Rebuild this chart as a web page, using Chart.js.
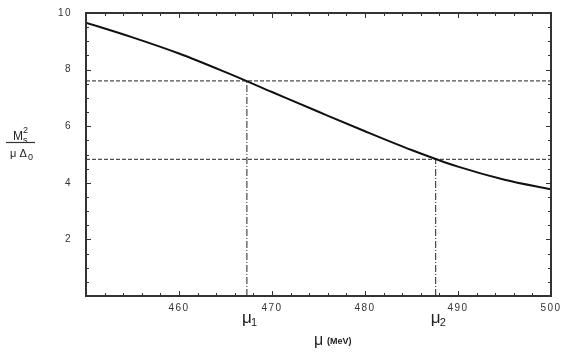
<!DOCTYPE html>
<html>
<head>
<meta charset="utf-8">
<script src="https://cdn.jsdelivr.net/npm/chart.js@4.4.1/dist/chart.umd.min.js"></script>
<style>
  html, body { margin: 0; padding: 0; background: #fff; }
  #wrap { width: 572px; height: 354px; }
</style>
</head>
<body>
<div id="wrap"><canvas id="chart"></canvas></div>
<script>
// curve M_s^2 / (mu Delta_0) against mu (MeV)
const muValues = [450, 455, 460, 465, 470, 475, 480, 485, 490, 495, 500];
const ratioValues = [9.66, 9.14, 8.57, 7.91, 7.21, 6.51, 5.82, 5.16, 4.57, 4.11, 3.77];

// the two marked points
const markMu = [467.3, 487.6];
const markRatio = [7.60, 4.83];
const markNames = ["1", "2"];

const xTicks = [460, 470, 480, 490, 500];
const yTicks = [2, 4, 6, 8, 10];

const FONT = "'Liberation Sans', Arial, sans-serif";

const datasets = [
  {
    data: muValues.map((m, i) => ({ x: m, y: ratioValues[i] })),
    borderColor: "#111",
    borderWidth: 2,
    pointRadius: 0,
    cubicInterpolationMode: "monotone",
  },
];
markMu.forEach((m, i) => {
  // horizontal dashed line across the whole plot
  datasets.push({
    data: [{ x: 450, y: markRatio[i] }, { x: 500, y: markRatio[i] }],
    borderColor: "#222",
    borderWidth: 1,
    borderDash: [4, 2],
    pointRadius: 0,
  });
  // vertical dash-dot line down to the axis
  datasets.push({
    data: [{ x: m, y: 0 }, { x: m, y: markRatio[i] }],
    borderColor: "#222",
    borderWidth: 1,
    borderDash: [7, 2, 1, 2],
    pointRadius: 0,
  });
});

// inward tick marks, labels under the marks, axis title, fraction label
const extras = {
  id: "extras",
  beforeDraw(chart) {
    chart.ctx.letterSpacing = "1.5px";
  },
  afterDraw(chart) {
    const ctx = chart.ctx;
    const { left, right, top, bottom } = chart.chartArea;
    const xs = chart.scales.x;
    const ys = chart.scales.y;
    ctx.save();
    ctx.letterSpacing = "0px";
    ctx.strokeStyle = "#333";
    ctx.lineWidth = 1;
    ctx.beginPath();
    for (let v = 452; v < 500; v += 2) {
      const px = Math.round(xs.getPixelForValue(v)) + 0.5;
      const len = v % 10 === 0 ? 5 : 3;
      ctx.moveTo(px, bottom); ctx.lineTo(px, bottom - len);
      ctx.moveTo(px, top); ctx.lineTo(px, top + len);
    }
    for (let v = 0.5; v < 10; v += 0.5) {
      const py = Math.round(ys.getPixelForValue(v)) + 0.5;
      const len = v % 2 === 0 ? 5 : 3;
      ctx.moveTo(left, py); ctx.lineTo(left + len, py);
      ctx.moveTo(right, py); ctx.lineTo(right - len, py);
    }
    ctx.stroke();

    // frame
    ctx.strokeStyle = "#333";
    ctx.lineWidth = 2;
    ctx.strokeRect(left, top, right - left, bottom - top);

    ctx.fillStyle = "#222";
    ctx.textBaseline = "alphabetic";
    // mu_1, mu_2
    markMu.forEach((m, i) => {
      const px = xs.getPixelForValue(m);
      ctx.font = "17px " + FONT;
      ctx.textAlign = "center";
      ctx.fillText("\u03bc", px, 323);
      ctx.font = "11px " + FONT;
      ctx.textAlign = "left";
      ctx.fillText(markNames[i], px + 4, 326);
    });

    // x axis title
    ctx.font = "16px " + FONT;
    ctx.textAlign = "left";
    ctx.fillText("\u03bc", 314, 345);
    ctx.font = "bold 9px " + FONT;
    ctx.fillText("(MeV)", 327, 344);

    // y axis label as a fraction
    ctx.font = "12px " + FONT;
    ctx.fillText("M", 13, 140);
    ctx.font = "9px " + FONT;
    ctx.fillText("s", 23, 143);
    ctx.fillText("2", 23, 133);
    ctx.beginPath();
    ctx.lineWidth = 1.2;
    ctx.moveTo(6, 142.5); ctx.lineTo(35, 142.5);
    ctx.stroke();
    ctx.font = "11px " + FONT;
    ctx.fillText("\u03bc \u0394", 10, 157);
    ctx.font = "9px " + FONT;
    ctx.fillText("0", 28, 160);
    ctx.restore();
  },
};

new Chart(document.getElementById("chart"), {
  type: "line",
  data: { datasets: datasets },
  options: {
    responsive: true,
    maintainAspectRatio: false,
    animation: false,
    layout: { padding: { top: 13, right: 21, left: 0, bottom: 0 } },
    plugins: { legend: { display: false }, tooltip: { enabled: false } },
    scales: {
      x: {
        type: "linear",
        min: 450,
        max: 500,
        afterBuildTicks: (s) => { s.ticks = xTicks.map((v) => ({ value: v })); },
        afterFit: (s) => { s.height = 58; s.paddingLeft = 0; s.paddingRight = 0; },
        grid: { display: false, drawTicks: false },
        border: { display: false },
        ticks: {
          padding: 6,
          color: "#333",
          font: { family: FONT, size: 10 },
          maxRotation: 0,
        },
      },
      y: {
        type: "linear",
        min: 0,
        max: 10,
        afterBuildTicks: (s) => { s.ticks = yTicks.map((v) => ({ value: v })); },
        afterFit: (s) => { s.width = 86; s.paddingTop = 0; s.paddingBottom = 0; },
        grid: { display: false, drawTicks: false },
        border: { display: false },
        ticks: {
          padding: 14,
          color: "#333",
          font: { family: FONT, size: 10 },
        },
      },
    },
  },
  plugins: [extras],
});
</script>
</body>
</html>
